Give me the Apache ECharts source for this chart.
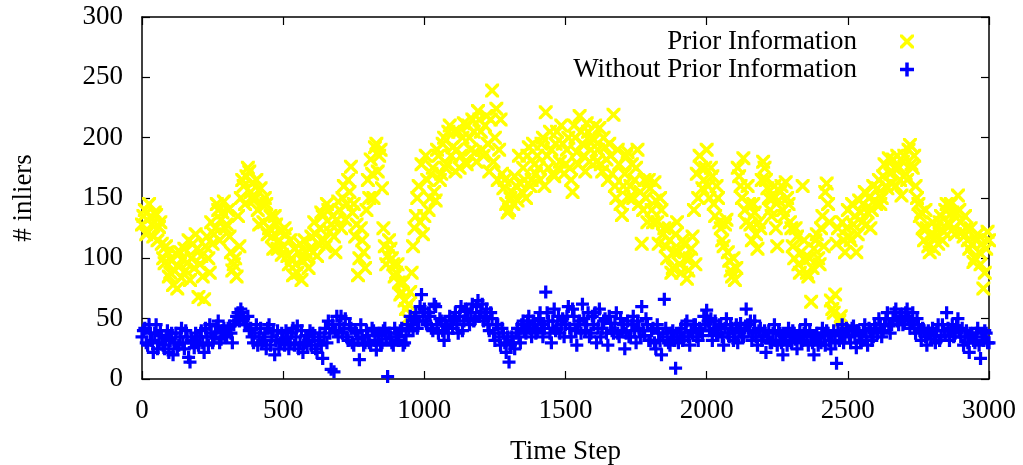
<!DOCTYPE html>
<html>
<head>
<meta charset="utf-8">
<script src="https://cdn.jsdelivr.net/npm/echarts@6/dist/echarts.min.js"></script>
<style>html,body{margin:0;padding:0;background:#fff}#c{width:1023px;height:465px}</style>
</head>
<body>
<div id="c"></div>
<script>
// Time steps sampled every 10 steps (0 .. 3000)
const timeSteps = [
0,10,20,30,40,50,60,70,80,90,100,110,120,130,140,150,160,170,180,190,
200,210,220,230,240,250,260,270,280,290,300,310,320,330,340,350,360,370,380,390,
400,410,420,430,440,450,460,470,480,490,500,510,520,530,540,550,560,570,580,590,
600,610,620,630,640,650,660,670,680,690,700,710,720,730,740,750,760,770,780,790,
800,810,820,830,840,850,860,870,880,890,900,910,920,930,940,950,960,970,980,990,
1000,1010,1020,1030,1040,1050,1060,1070,1080,1090,1100,1110,1120,1130,1140,1150,1160,1170,1180,1190,
1200,1210,1220,1230,1240,1250,1260,1270,1280,1290,1300,1310,1320,1330,1340,1350,1360,1370,1380,1390,
1400,1410,1420,1430,1440,1450,1460,1470,1480,1490,1500,1510,1520,1530,1540,1550,1560,1570,1580,1590,
1600,1610,1620,1630,1640,1650,1660,1670,1680,1690,1700,1710,1720,1730,1740,1750,1760,1770,1780,1790,
1800,1810,1820,1830,1840,1850,1860,1870,1880,1890,1900,1910,1920,1930,1940,1950,1960,1970,1980,1990,
2000,2010,2020,2030,2040,2050,2060,2070,2080,2090,2100,2110,2120,2130,2140,2150,2160,2170,2180,2190,
2200,2210,2220,2230,2240,2250,2260,2270,2280,2290,2300,2310,2320,2330,2340,2350,2360,2370,2380,2390,
2400,2410,2420,2430,2440,2450,2460,2470,2480,2490,2500,2510,2520,2530,2540,2550,2560,2570,2580,2590,
2600,2610,2620,2630,2640,2650,2660,2670,2680,2690,2700,2710,2720,2730,2740,2750,2760,2770,2780,2790,
2800,2810,2820,2830,2840,2850,2860,2870,2880,2890,2900,2910,2920,2930,2940,2950,2960,2970,2980,2990,
3000
];
// Intermediate time steps (5, 15, ... 2995)
const timeStepsMid = [
5,15,25,35,45,55,65,75,85,95,105,115,125,135,145,155,165,175,185,195,
205,215,225,235,245,255,265,275,285,295,305,315,325,335,345,355,365,375,385,395,
405,415,425,435,445,455,465,475,485,495,505,515,525,535,545,555,565,575,585,595,
605,615,625,635,645,655,665,675,685,695,705,715,725,735,745,755,765,775,785,795,
805,815,825,835,845,855,865,875,885,895,905,915,925,935,945,955,965,975,985,995,
1005,1015,1025,1035,1045,1055,1065,1075,1085,1095,1105,1115,1125,1135,1145,1155,1165,1175,1185,1195,
1205,1215,1225,1235,1245,1255,1265,1275,1285,1295,1305,1315,1325,1335,1345,1355,1365,1375,1385,1395,
1405,1415,1425,1435,1445,1455,1465,1475,1485,1495,1505,1515,1525,1535,1545,1555,1565,1575,1585,1595,
1605,1615,1625,1635,1645,1655,1665,1675,1685,1695,1705,1715,1725,1735,1745,1755,1765,1775,1785,1795,
1805,1815,1825,1835,1845,1855,1865,1875,1885,1895,1905,1915,1925,1935,1945,1955,1965,1975,1985,1995,
2005,2015,2025,2035,2045,2055,2065,2075,2085,2095,2105,2115,2125,2135,2145,2155,2165,2175,2185,2195,
2205,2215,2225,2235,2245,2255,2265,2275,2285,2295,2305,2315,2325,2335,2345,2355,2365,2375,2385,2395,
2405,2415,2425,2435,2445,2455,2465,2475,2485,2495,2505,2515,2525,2535,2545,2555,2565,2575,2585,2595,
2605,2615,2625,2635,2645,2655,2665,2675,2685,2695,2705,2715,2725,2735,2745,2755,2765,2775,2785,2795,
2805,2815,2825,2835,2845,2855,2865,2875,2885,2895,2905,2915,2925,2935,2945,2955,2965,2975,2985,2995
];

// "Prior Information" inliers at timeSteps
const priorInfo = [
128,140,122,134,118,136,126,112,96,105,
88,78,104,93,84,108,96,82,112,120,
68,102,66,118,88,112,125,140,132,147,
128,118,90,100,135,150,160,168,172,162,
150,140,158,130,145,125,118,135,108,122,
110,120,95,100,108,88,112,98,105,92,
118,130,102,125,135,110,140,128,118,132,
140,150,132,165,176,145,128,100,115,92,
165,182,150,195,185,158,110,102,108,95,
88,80,72,65,50,72,110,135,160,178,
135,165,150,175,148,185,170,200,178,210,
192,172,205,185,212,178,200,215,188,222,
205,185,218,172,239,200,165,215,158,145,
140,155,168,148,162,175,150,192,165,178,
185,165,200,221,175,190,168,205,180,195,
178,200,165,210,188,218,195,172,205,190,
198,180,208,172,192,165,185,219,150,178,
136,170,188,160,150,175,145,112,165,130,
158,130,148,112,140,125,100,115,92,120,
105,88,112,83,100,118,95,150,175,165,
190,150,168,135,150,125,110,132,98,85,
82,175,160,183,130,145,115,138,108,125,
180,165,150,135,160,110,155,140,163,145,
125,100,118,88,160,98,85,64,108,120,
95,135,155,145,65,55,112,48,130,105,
140,115,128,105,148,130,155,138,125,160,
145,165,150,178,158,170,182,160,175,152,
185,165,194,175,160,145,138,115,125,105,
130,118,112,135,122,145,128,138,120,152,
130,118,125,108,112,100,120,95,75,108,
115
];
// "Prior Information" inliers at timeStepsMid
const priorInfoMid = [
135,120,145,128,138,115,130,100,110,85,
98,90,75,105,100,90,115,100,92,108,
95,85,110,100,130,120,145,115,138,125,
140,105,95,85,110,165,145,175,155,148,
165,128,145,150,120,135,108,128,115,103,
125,102,115,86,95,105,82,115,100,108,
105,120,112,138,115,145,122,135,105,147,
125,160,145,155,138,118,86,125,105,140,
150,170,192,172,190,125,95,115,100,85,
95,70,80,58,62,88,125,150,130,120,
185,140,170,155,190,165,195,175,205,185,
205,190,175,200,180,210,190,205,180,215,
190,210,195,215,180,224,190,170,165,138,
150,145,160,185,155,165,185,160,195,170,
175,195,160,185,205,170,195,175,210,170,
190,175,155,200,178,205,185,212,180,200,
210,190,178,200,182,195,170,160,190,145,
160,185,150,178,165,190,155,140,150,165,
140,163,130,150,120,110,125,88,105,130,
95,115,100,90,108,140,170,185,158,175,
160,175,145,160,130,115,128,105,90,100,
92,168,150,140,160,128,145,120,130,165,
175,158,140,150,125,148,160,135,150,130,
110,125,95,105,115,88,100,92,115,100,
125,110,162,130,58,70,125,52,115,125,
118,145,135,120,138,145,128,150,140,148,
158,145,168,160,183,162,175,185,165,180,
170,190,178,185,150,135,125,140,110,118,
108,125,130,115,140,130,145,125,138,140,
122,135,115,125,97,115,105,112,88,122
];

// "Without Prior Information" inliers at timeSteps
const withoutPriorInfo = [
35,42,28,38,22,45,30,36,25,40,
32,20,38,28,42,25,35,14,30,38,
28,40,22,35,45,30,38,48,33,42,
36,44,30,48,55,58,50,45,40,35,
38,28,42,32,25,45,35,20,40,30,
33,40,25,38,28,44,30,22,36,32,
28,35,22,38,17,42,48,8,6,52,
45,38,50,32,42,28,38,16,35,30,
36,28,40,24,38,30,42,2,35,28,
38,32,42,30,45,52,40,55,48,70,
58,45,52,40,60,38,48,32,44,52,
42,55,38,60,48,56,45,62,50,65,
55,48,58,40,50,32,45,28,38,22,
14,35,25,42,30,48,38,52,35,45,
40,55,35,72,48,30,58,42,38,50,
45,60,35,52,28,48,62,40,55,38,
45,30,58,42,50,28,46,38,55,35,
40,25,48,35,52,30,42,60,36,45,
32,42,25,38,20,66,35,28,40,9,
30,42,35,48,28,38,45,32,40,52,
57,40,32,48,36,44,28,50,35,42,
38,30,46,35,58,40,32,48,28,42,
35,22,40,30,45,28,38,20,36,42,
30,38,25,40,32,45,28,36,20,38,
34,42,28,38,25,40,13,32,45,36,
40,30,44,26,38,32,45,28,40,35,
42,50,35,45,55,38,50,58,45,52,
48,58,42,55,38,45,32,40,28,38,
42,30,45,35,40,55,32,45,38,50,
35,28,40,22,36,30,42,17,32,38,
30
];
// "Without Prior Information" inliers at timeStepsMid
const withoutPriorInfoMid = [
40,30,45,32,38,25,40,28,34,22,
38,30,25,35,30,40,18,32,26,35,
35,30,42,28,38,35,44,30,40,35,
42,38,45,52,48,55,45,52,42,30,
45,35,30,38,42,28,40,32,25,38,
28,35,30,42,35,25,40,30,28,40,
38,25,32,28,35,30,38,45,40,35,
52,42,35,45,30,40,33,45,28,40,
30,42,32,36,28,40,33,38,30,42,
35,40,28,36,40,45,50,42,60,52,
48,55,42,62,45,50,40,45,38,48,
50,45,52,40,58,50,55,48,60,52,
62,52,45,55,38,45,35,42,30,35,
28,30,38,35,45,40,48,42,48,38,
50,45,42,55,38,48,40,52,45,35,
52,42,58,40,45,38,50,45,35,52,
55,42,35,48,38,52,40,46,38,50,
45,38,35,45,40,48,35,40,50,32,
40,30,45,32,38,42,30,38,32,35,
38,32,45,35,40,45,35,42,36,45,
48,50,42,38,45,35,42,38,45,32,
45,40,35,42,45,48,38,35,40,32,
40,35,30,38,32,40,30,35,28,32,
40,33,35,30,38,35,40,30,35,28,
30,36,40,32,36,30,40,38,30,42,
35,42,36,40,30,40,35,42,32,45,
38,45,40,50,44,45,55,48,52,45,
55,50,48,42,50,40,42,35,40,33,
36,40,32,45,36,42,40,35,44,40,
42,35,30,38,32,38,28,35,40,30
];

const xTicks = [0, 500, 1000, 1500, 2000, 2500, 3000];
const yTicks = [0, 50, 100, 150, 200, 250, 300];

const FONT = 'Liberation Serif';
const PLUS = 'path://M4.5,0H7.5V4.5H12V7.5H7.5V12H4.5V7.5H0V4.5H4.5Z';
const CROSS = 'path://M0,0L2.1,0L6,3.9L9.9,0L12,0L12,2.1L8.1,6L12,9.9L12,12L9.9,12L6,8.1L2.1,12L0,12L0,9.9L3.9,6L0,2.1Z';

const pairs = (ts, ys) => ts.map((t, i) => [t, ys[i]]);

const axisLine = { show: true, onZero: false, lineStyle: { color: '#000', width: 1.5 } };
const tick = { show: true, inside: true, length: 8, lineStyle: { color: '#000', width: 1.2 } };
const plainNum = (v) => String(v);

const chart = echarts.init(document.getElementById('c'), null, { renderer: 'canvas' });
chart.setOption({
  animation: false,
  backgroundColor: '#fff',
  textStyle: { fontFamily: FONT },
  grid: { left: 142, right: 34, top: 17, bottom: 86, containLabel: false, outerBoundsMode: 'none' },
  legend: [
    {
      data: ['Prior Information'], right: 104, top: 23, orient: 'vertical', align: 'right',
      itemWidth: 14, itemHeight: 14, selectedMode: false,
      textStyle: { fontFamily: FONT, fontSize: 27, color: '#000', padding: [0, 38, 0, 0] }
    },
    {
      data: ['Without Prior Information'], right: 104, top: 51, orient: 'vertical', align: 'right',
      itemWidth: 14, itemHeight: 14, selectedMode: false,
      textStyle: { fontFamily: FONT, fontSize: 27, color: '#000', padding: [0, 38, 0, 0] }
    }
  ],
  xAxis: [
    {
      type: 'value', min: xTicks[0], max: xTicks[xTicks.length - 1], interval: xTicks[1] - xTicks[0],
      position: 'bottom',
      name: 'Time Step', nameLocation: 'middle', nameGap: 59,
      nameTextStyle: { fontFamily: FONT, fontSize: 27, color: '#000' },
      axisLine, axisTick: tick, splitLine: { show: false },
      axisLabel: { fontFamily: FONT, fontSize: 27, color: '#000', margin: 18, formatter: plainNum }
    },
    {
      type: 'value', min: xTicks[0], max: xTicks[xTicks.length - 1], interval: xTicks[1] - xTicks[0],
      position: 'top', axisLine, axisTick: tick, splitLine: { show: false }, axisLabel: { show: false }
    }
  ],
  yAxis: [
    {
      type: 'value', min: yTicks[0], max: yTicks[yTicks.length - 1], interval: yTicks[1] - yTicks[0],
      position: 'left',
      name: '# inliers', nameLocation: 'middle', nameGap: 105,
      nameTextStyle: { fontFamily: FONT, fontSize: 27, color: '#000' },
      axisLine, axisTick: tick, splitLine: { show: false },
      axisLabel: { fontFamily: FONT, fontSize: 27, color: '#000', margin: 19, formatter: plainNum }
    },
    {
      type: 'value', min: yTicks[0], max: yTicks[yTicks.length - 1], interval: yTicks[1] - yTicks[0],
      position: 'right', axisLine, axisTick: tick, splitLine: { show: false }, axisLabel: { show: false }
    }
  ],
  series: [
    {
      name: 'Prior Information', type: 'scatter', xAxisIndex: 0, yAxisIndex: 0,
      symbol: CROSS, symbolSize: 14,
      itemStyle: { color: '#ffff00', opacity: 1 },
      emphasis: { disabled: true }, silent: true,
      data: pairs(timeSteps, priorInfo).concat(pairs(timeStepsMid, priorInfoMid))
    },
    {
      name: 'Without Prior Information', type: 'scatter', xAxisIndex: 0, yAxisIndex: 0,
      symbol: PLUS, symbolSize: 13,
      itemStyle: { color: '#0000ff', opacity: 1 },
      emphasis: { disabled: true }, silent: true,
      data: pairs(timeSteps, withoutPriorInfo).concat(pairs(timeStepsMid, withoutPriorInfoMid))
    }
  ]
});
</script>
</body>
</html>
